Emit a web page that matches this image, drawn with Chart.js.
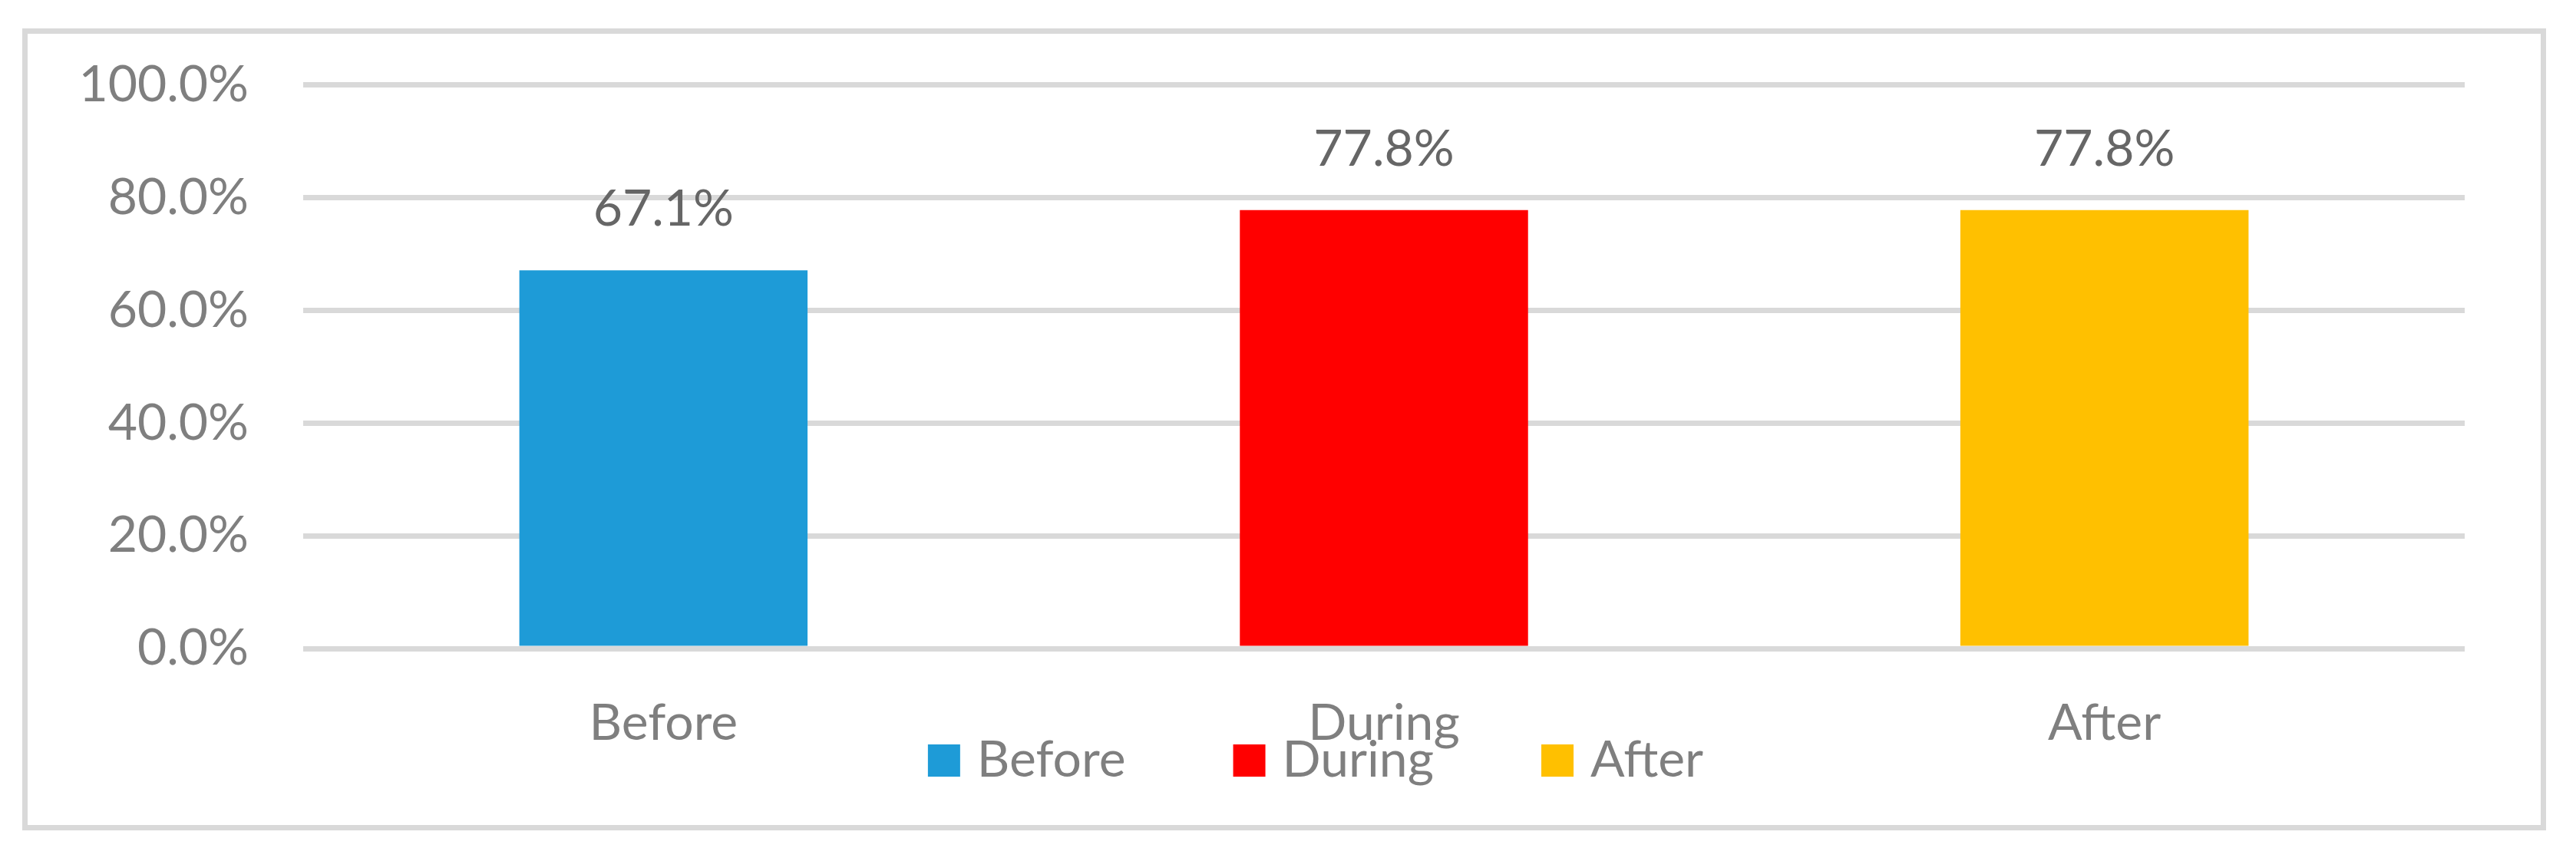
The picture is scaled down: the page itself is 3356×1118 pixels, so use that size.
<!DOCTYPE html>
<html>
<head>
<meta charset="utf-8">
<script src="https://cdn.jsdelivr.net/npm/chart.js@4"></script>
<style>
  body { margin: 0; background: #fff; }
  #frame {
    position: absolute; left: 29px; top: 37px; width: 3288px; height: 1045px;
    border: 7px solid #d9d9d9; box-sizing: border-box;
  }
  #chart { position: absolute; left: 0; top: 0; }
</style>
</head>
<body>
<div id="frame"></div>
<canvas id="chart" width="3356" height="1118"></canvas>
<script>
const categories = ['Before', 'During', 'After'];
const values = [67.1, 77.8, 77.8];
const barColors = ['#1e9bd7', '#ff0000', '#ffc000'];
const yTicks = [0, 20, 40, 60, 80, 100];

Chart.defaults.font.family = 'Lato';
const textGrey = '#7f7f7f';

// value labels above each bar, placed from the bar elements
const barLabels = {
  id: 'barLabels',
  afterDatasetsDraw(chart) {
    const ctx = chart.ctx;
    const meta = chart.getDatasetMeta(0);
    ctx.save();
    ctx.font = '66px Lato';
    ctx.fillStyle = '#666666';
    ctx.textAlign = 'center';
    ctx.textBaseline = 'alphabetic';
    meta.data.forEach((bar, i) => {
      ctx.fillText(values[i].toFixed(1) + '%', bar.x, bar.y - 58);
    });
    ctx.restore();
  }
};

// Excel puts the legend row over the category labels, so draw it by hand
const overlapLegend = {
  id: 'overlapLegend',
  afterDraw(chart, args, opts) {
    const ctx = chart.ctx;
    ctx.save();
    ctx.font = '66px Lato';
    ctx.textBaseline = 'middle';
    const widths = categories.map(c => opts.box + opts.boxGap + ctx.measureText(c).width);
    const total = widths.reduce((a, b) => a + b, 0) + opts.itemGap * (categories.length - 1);
    let x = opts.centerX - total / 2;
    categories.forEach((c, i) => {
      ctx.fillStyle = barColors[i];
      ctx.fillRect(x, opts.y - opts.box / 2, opts.box, opts.box);
      ctx.fillStyle = textGrey;
      ctx.fillText(c, x + opts.box + opts.boxGap, opts.y);
      x += widths[i] + opts.itemGap;
    });
    ctx.restore();
  }
};

const ctx = document.getElementById('chart').getContext('2d');
new Chart(ctx, {
  type: 'bar',
  data: {
    labels: categories,
    datasets: [{
      label: 'Share',
      data: values,
      backgroundColor: barColors,
      borderWidth: 0,
      barPercentage: 0.4,
      categoryPercentage: 1
    }]
  },
  options: {
    responsive: false,
    animation: false,
    layout: { padding: { left: 0, right: 145, top: 109, bottom: 0 } },
    plugins: {
      tooltip: { enabled: false },
      legend: { display: false },
      overlapLegend: { centerX: 1714, y: 991, box: 42, boxGap: 22, itemGap: 140 }
    },
    scales: {
      x: {
        grid: { display: false, drawTicks: false },
        border: { display: false },
        ticks: { color: textGrey, font: { size: 66 }, padding: 58 },
        afterFit: scale => { scale.height = 273; }
      },
      y: {
        min: 0,
        max: 100,
        afterBuildTicks: scale => { scale.ticks = yTicks.map(v => ({ value: v })); },
        grid: { color: '#d9d9d9', lineWidth: 7, drawTicks: false },
        border: { display: false },
        ticks: {
          color: textGrey,
          font: { size: 66 },
          padding: 71,
          callback: v => v.toFixed(1) + '%'
        },
        afterFit: scale => { scale.width = 395; }
      }
    }
  },
  plugins: [barLabels, overlapLegend]
});
</script>
</body>
</html>
